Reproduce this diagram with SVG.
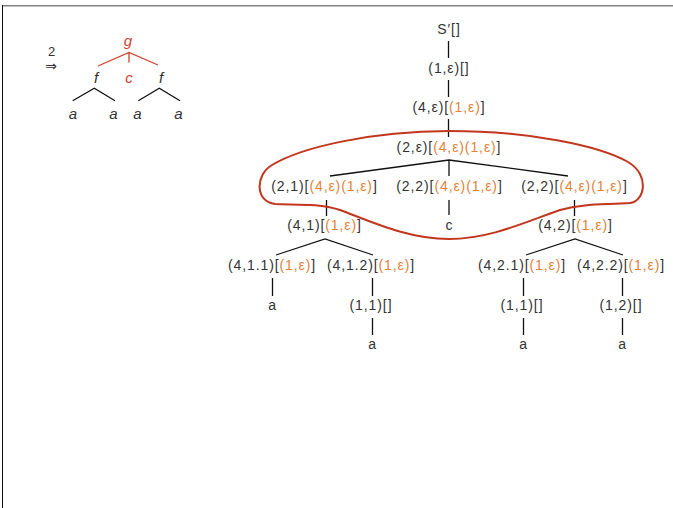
<svg xmlns="http://www.w3.org/2000/svg" width="673" height="508" viewBox="0 0 673 508">
<style>
  .t { font-family: "Liberation Sans", Arial, sans-serif; font-size: 14px; fill: #333; text-anchor: middle; letter-spacing: 0.9px; }
  .o { fill: #e58138; }
  .it { font-family: "Liberation Sans", Arial, sans-serif; font-size: 15px; font-style: italic; fill: #333; text-anchor: middle; }
  .red { fill: #d2422c; }
  .ln { stroke: #111; stroke-width: 1.3; fill: none; }
  .rl { stroke: #d2422c; stroke-width: 1.3; fill: none; }
</style>
<rect x="0" y="0" width="673" height="508" fill="#fff"/>
<line x1="2" y1="5.8" x2="673" y2="5.8" stroke="#808080" stroke-width="1.6"/>
<line x1="2.5" y1="5" x2="2.5" y2="508" stroke="#111" stroke-width="1"/>

<g id="derivation">
  <text x="51.5" y="55.5" style="font-family:'Liberation Sans',Arial,sans-serif;font-size:13px;fill:#333;text-anchor:middle">2</text>
  <text x="51" y="71" style="font-family:'DejaVu Sans',sans-serif;font-size:14px;fill:#333;text-anchor:middle">⇒</text>
  <text class="it red" x="128" y="46">g</text>
  <text class="it red" x="129" y="83">c</text>
  <text class="it" x="96" y="83">f</text>
  <text class="it" x="161" y="83">f</text>
  <text class="it" x="73" y="119">a</text>
  <text class="it" x="113.5" y="119">a</text>
  <text class="it" x="137.5" y="119">a</text>
  <text class="it" x="178.5" y="119">a</text>
  <path class="rl" d="M98,66 L129,52.5 L158,65 M129,52.5 V62.5"/>
  <path class="ln" d="M72.7,100.7 L94.3,88.3 L115,100.7 M138.3,100.7 L159.3,88.3 L180,100.7"/>
</g>

<g id="connectors">
  <path class="ln" d="M448.5,41 V58 M448.5,80 V97 M448.5,119 V137"/>
  <path class="ln" d="M330,176 L449,160 L568,176 M449,160 V176"/>
  <path class="ln" d="M326.5,200 V216 M449,200 V215 M574.5,200 V216"/>
  <path class="ln" d="M276,255 L325,239 L373,255 M526,255 L575,239 L623,255"/>
  <path class="ln" d="M272.5,278 V296 M372.5,278 V296 M523.5,278 V296 M622.5,278 V296"/>
  <path class="ln" d="M372.5,318 V335 M523.5,318 V335 M622.5,318 V335"/>
</g>

<g id="n-sprime"><text class="t" x="449" y="34">S′[]</text></g>
<g id="n-1e"><text class="t" x="449" y="73">(1,ε)[]</text></g>
<g id="n-4e"><text class="t" x="449" y="112">(4,ε)[<tspan class="o">(1,ε)</tspan>]</text></g>
<g id="n-2e"><text class="t" x="449" y="152">(2,ε)[<tspan class="o">(4,ε)(1,ε)</tspan>]</text></g>
<g id="n-21"><text class="t" x="324.5" y="191">(2,1)[<tspan class="o">(4,ε)(1,ε)</tspan>]</text></g>
<g id="n-22a"><text class="t" x="449.5" y="191">(2,2)[<tspan class="o">(4,ε)(1,ε)</tspan>]</text></g>
<g id="n-22b"><text class="t" x="574.5" y="191">(2,2)[<tspan class="o">(4,ε)(1,ε)</tspan>]</text></g>
<g id="n-41"><text class="t" x="324.5" y="230">(4,1)[<tspan class="o">(1,ε)</tspan>]</text></g>
<g id="n-c"><text class="t" x="449.5" y="230">c</text></g>
<g id="n-42"><text class="t" x="575.5" y="230">(4,2)[<tspan class="o">(1,ε)</tspan>]</text></g>
<g id="n-411"><text class="t" x="272" y="270">(4,1.1)[<tspan class="o">(1,ε)</tspan>]</text></g>
<g id="n-412"><text class="t" x="371" y="270">(4,1.2)[<tspan class="o">(1,ε)</tspan>]</text></g>
<g id="n-421"><text class="t" x="522" y="270">(4,2.1)[<tspan class="o">(1,ε)</tspan>]</text></g>
<g id="n-422"><text class="t" x="621" y="270">(4,2.2)[<tspan class="o">(1,ε)</tspan>]</text></g>
<g id="n-a1"><text class="t" x="272.5" y="310">a</text></g>
<g id="n-11a"><text class="t" x="371" y="310">(1,1)[]</text></g>
<g id="n-11b"><text class="t" x="522" y="310">(1,1)[]</text></g>
<g id="n-12"><text class="t" x="621" y="310">(1,2)[]</text></g>
<g id="n-a2"><text class="t" x="372.5" y="349">a</text></g>
<g id="n-a3"><text class="t" x="523.5" y="349">a</text></g>
<g id="n-a4"><text class="t" x="622.5" y="349">a</text></g>

<g id="blob">
  <path d="M449,131 C530,131 600,146 628,162 C650,175 645,201 630,203 C605,205 585,203 560,210 C525,222 490,239 449,239 C408,239 372,222 340,210 C318,203 295,205 275,204 C255,202 255,175 272,165 C300,148 370,131 449,131 Z" fill="none" stroke="#c3361e" stroke-width="2"/>
</g>
</svg>
